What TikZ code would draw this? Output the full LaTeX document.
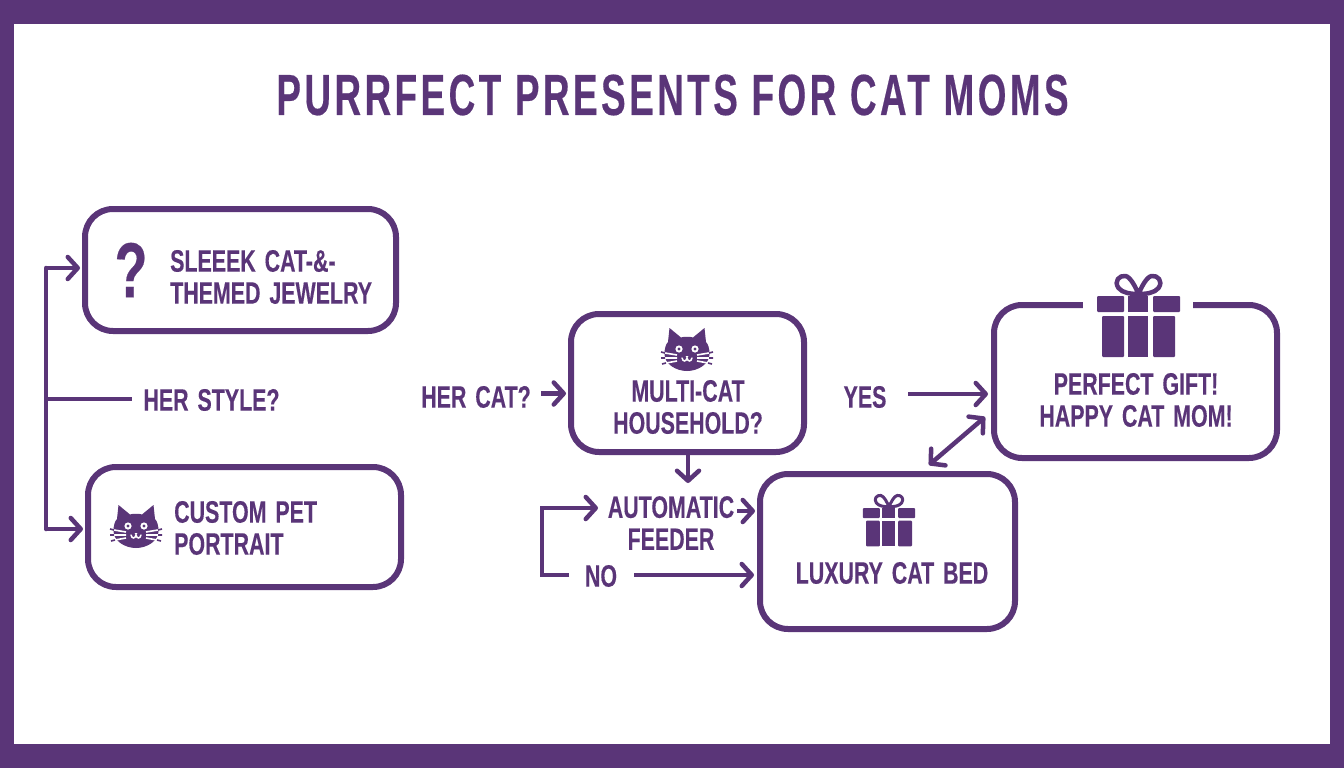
\documentclass[tikz,border=0pt]{standalone}
\usepackage{fontspec}
\setmainfont{Liberation Sans}[FakeStretch=0.69,WordSpace=1.5,FakeBold=0.25]
\newfontfamily\titlefont{Liberation Sans}[FakeStretch=0.635,LetterSpace=6,FakeBold=0.3]
\usetikzlibrary{arrows.meta,calc}
\definecolor{pp}{HTML}{5A3578}
\tikzset{
  box/.style={draw=pp,line width=6pt,rounded corners=28pt,inner sep=0pt},
  lab/.style={text=pp,font=\fontsize{31}{32}\selectfont\bfseries,inner sep=0pt},
  con/.style={draw=pp,line width=4.5pt},
  arr/.style={con,-{Straight Barb[length=10pt,width=22pt,line width=4.5pt,round]}},
  darr/.style={con,{Straight Barb[length=10pt,width=22pt,line width=4.5pt,round]}-{Straight Barb[length=10pt,width=22pt,line width=4.5pt,round]}},
  cat/.pic={
    \fill[pp] (-22.5,4) .. controls (-22.5,-2) and (-21,-6) .. (-19,-8) -- (-17.5,-22) -- (-6,-12.5)
      .. controls (-3,-13.5) and (3,-13.5) .. (6,-12.5) -- (17.5,-22) -- (19,-8)
      .. controls (21,-6) and (22.5,-2) .. (22.5,4) .. controls (22.5,14) and (11,21) .. (0,21)
      .. controls (-11,21) and (-22.5,14) .. (-22.5,4) -- cycle;
    \foreach \s in {-1,1}{
      \fill[white] (\s*8,-1) circle (3.6);
      \fill[pp] (\s*8,-1) circle (1.6);
      \draw[white,line width=1.6pt] (\s*10,5) -- (\s*22,3) (\s*10,8) -- (\s*22,8) (\s*10,11) -- (\s*21,13);
      \draw[pp,line width=1.6pt] (\s*22,3) -- (\s*26,2) (\s*22,8) -- (\s*26,8) (\s*21,13) -- (\s*25,14);
    }
    \draw[white,line width=1.5pt,line cap=round] (-5,8) .. controls (-4,12) and (-1,12) .. (0,8) .. controls (1,12) and (4,12) .. (5,8);
    \fill[white] (-1.5,6) -- (1.5,6) -- (0,8) -- cycle;
  },
  gift/.pic={
    \fill[pp,rounded corners=1pt] (-41.5,-19) rectangle (-14.5,-3);
    \fill[pp] (-10.5,-19) rectangle (9.5,-3);
    \fill[pp,rounded corners=1pt] (14.5,-19) rectangle (41.5,-3);
    \fill[pp,rounded corners=1pt] (-36.5,1) rectangle (-14.5,42);
    \fill[pp] (-10.5,1) rectangle (9.5,42);
    \fill[pp,rounded corners=1pt] (14.5,1) rectangle (36.5,42);
    \draw[pp,line width=\pgfkeysvalueof{/tikz/giftlw},line join=round]
      (0,-21) .. controls (-8,-21) and (-16,-22) .. (-20,-27) .. controls (-25,-34) and (-19,-40) .. (-13,-39) .. controls (-8,-38) and (-3,-28) .. (0,-21)
      .. controls (3,-28) and (8,-38) .. (13,-39) .. controls (19,-40) and (25,-34) .. (20,-27) .. controls (16,-22) and (8,-21) .. (0,-21);
  },
  giftlw/.initial=4pt
}
\begin{document}
\begin{tikzpicture}[x=1pt,y=-1pt]
\useasboundingbox (0,0) rectangle (1344,768);
\fill[pp] (0,0) rectangle (1344,768);
\fill[white] (14,24) rectangle (1330,744);

\node[text=pp,font=\fontsize{58}{58}\selectfont\bfseries\titlefont,inner sep=0pt] (title) at (672.5,95) {PURRFECT PRESENTS FOR CAT MOMS};

% boxes
\node[box,minimum width=311pt,minimum height=122pt] (b1) at (240.5,270) {};
\node[box,minimum width=313pt,minimum height=120pt] (b2) at (244.5,527) {};
\node[box,minimum width=233pt,minimum height=138pt] (b3) at (687.5,383) {};
\node[box,minimum width=255pt,minimum height=155pt] (b4) at (887.5,551.5) {};
\node[box,minimum width=283pt,minimum height=153pt] (b5) at (1135.5,381.5) {};
\fill[white] (1083,296) rectangle (1193,310);

% icons
\node[text=pp,font=\fontsize{78}{78}\selectfont\bfseries,inner sep=0pt] (q) at (131,270) {?};
\pic at (136,527) {cat};
\pic at (687,350) {cat};
\pic[giftlw=4.5pt] at (1138.5,315) {gift};
\pic[scale=0.63,giftlw=3pt] at (889,520) {gift};

% labels
\node[lab,anchor=west,align=left] (t1) at (170,277) {SLEEEK CAT-\&-\\THEMED JEWELRY};
\node[lab,anchor=west,align=left] (t2) at (174,528) {CUSTOM PET\\PORTRAIT};
\node[lab,align=center] (t3) at (688,407) {MULTI-CAT\\HOUSEHOLD?};
\node[lab,align=center] (t4) at (671,523) {AUTOMATIC\\FEEDER};
\node[lab] (t5) at (892,573) {LUXURY CAT BED};
\node[lab,align=center] (t6) at (1136,400) {PERFECT GIFT!\\HAPPY CAT MOM!};
\node[lab] (style) at (211.5,400) {HER STYLE?};
\node[lab] (hcat) at (476,397) {HER CAT?};
\node[lab] (yes) at (865,397) {YES};
\node[lab] (no) at (601,576) {NO};

% connectors
\coordinate (jt) at (46,268);
\coordinate (jb) at (46,529);
\coordinate (jm) at (46,399);
\coordinate (se) at (132,399);
\coordinate (ju) at (542,508);
\coordinate (jd) at (542,575);
\coordinate (ju2) at (598,508);
\coordinate (ns) at (569,575);
\coordinate (ne) at (634,575);
\coordinate (cs) at (541,393.5);
\coordinate (ys) at (908,394);
\coordinate (de) at (688,484);
\coordinate (as) at (737,511);
\draw[con,line cap=round] (jt) -- (jb);
\draw[arr,shorten >=2pt] (jt) -- (jt -| b1.west);
\draw[arr,shorten >=2pt] (jb) -- (jb -| b2.west);
\draw[con] (jm) -- (se);
\draw[arr,shorten >=2pt] (cs) -- (cs -| b3.west);
\draw[arr,shorten >=3pt] (ys) -- (ys -| b5.west);
\draw[arr,shorten >=1pt] (b3.south -| de) -- (de);
\draw[arr,shorten >=2pt] (as) -- (as -| b4.west);
\draw[arr] (ns) -- (jd) -- (ju) -- (ju2);
\draw[arr,shorten >=3pt] (ne) -- (ne -| b4.west);
\coordinate (d1) at (929,465);
\coordinate (d2) at (985,417);
\draw[darr] (d1) -- (d2);
\end{tikzpicture}
\end{document}
